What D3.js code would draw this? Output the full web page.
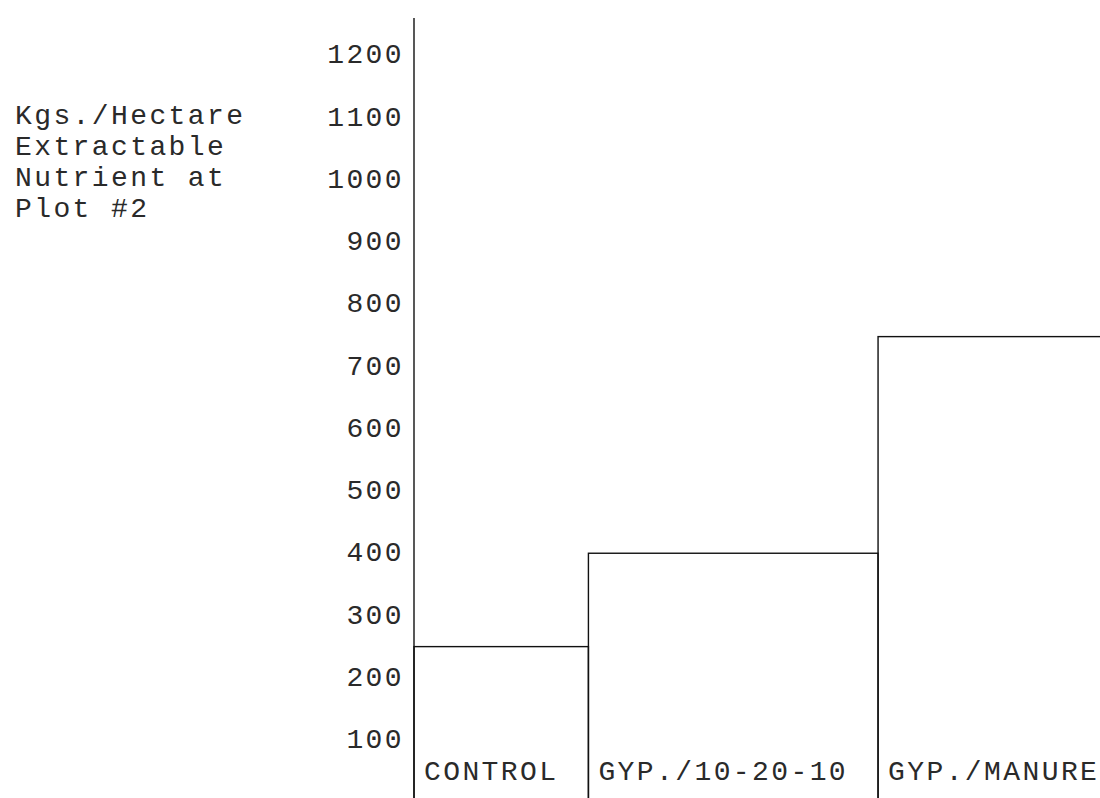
<!DOCTYPE html>
<html>
<head>
<meta charset="utf-8">
<script src="https://cdn.jsdelivr.net/npm/d3@7"></script>
<style>
  body { margin: 0; background: #fff; }
  text { font-family: "Liberation Mono", "DejaVu Sans Mono", monospace; fill: #2a2a2a; }
</style>
</head>
<body>
<svg id="chart" width="1100" height="798"></svg>
<script>
// Data
const categories = ['CONTROL', 'GYP./10-20-10', 'GYP./MANURE'];
const values = [248, 398, 746];
const tickValues = [100, 200, 300, 400, 500, 600, 700, 800, 900, 1000, 1100, 1200];
const titleLines = ['Kgs./Hectare', 'Extractable', 'Nutrient at', 'Plot #2'];

const svg = d3.select('#chart');

// Layout
const axisX = 414;
const fontSize = 28;
const letterSpacing = 2.4;

// y scale: 0 sits just below the window, 1200 near the top
const y = d3.scaleLinear().domain([0, 1200]).range([801, 54]);

// y axis (labels only, no tick marks)
const yAxis = d3.axisLeft(y)
  .tickValues(tickValues)
  .tickSize(0)
  .tickPadding(10)
  .tickFormat(d3.format('d'));

const axisG = svg.append('g')
  .attr('transform', `translate(${axisX},0)`)
  .call(yAxis);

axisG.select('.domain').remove();
axisG.selectAll('text')
  .attr('font-family', null)
  .style('font-size', `${fontSize}px`)
  .style('letter-spacing', `${letterSpacing}px`)
  .attr('dy', '0.32em');

// axis line, runs from the top of the frame to the bottom
svg.append('line')
  .attr('x1', axisX).attr('x2', axisX)
  .attr('y1', 18).attr('y2', 798)
  .attr('stroke', '#111')
  .attr('stroke-width', 1.4);

// Axis title
svg.append('text')
  .attr('x', 15)
  .attr('y', 124)
  .style('font-size', `${fontSize}px`)
  .style('letter-spacing', `${letterSpacing}px`)
  .selectAll('tspan')
  .data(titleLines)
  .enter()
  .append('tspan')
  .attr('x', 15)
  .attr('dy', (d, i) => (i === 0 ? 0 : 31))
  .text((d) => d);

// Bar widths follow their labels, like the original typed layout
const measure = svg.append('text')
  .style('font-size', `${fontSize}px`)
  .style('letter-spacing', `${letterSpacing}px`);
const labelWidths = categories.map((c) => {
  measure.text(c);
  return measure.node().getComputedTextLength();
});
measure.remove();

const padLeft = 10;
const padRight = 30;
const edges = [axisX];
labelWidths.forEach((w, i) => edges.push(edges[i] + padLeft + w + padRight));

const bars = svg.append('g');

bars.selectAll('rect')
  .data(values)
  .enter()
  .append('rect')
  .attr('x', (d, i) => edges[i])
  .attr('y', (d) => y(d))
  .attr('width', (d, i) => edges[i + 1] - edges[i])
  .attr('height', (d) => y(0) - y(d))
  .attr('fill', 'none')
  .attr('stroke', '#111')
  .attr('stroke-width', 1.4);

bars.selectAll('text')
  .data(categories)
  .enter()
  .append('text')
  .attr('x', (d, i) => edges[i] + padLeft)
  .attr('y', 780)
  .style('font-size', `${fontSize}px`)
  .style('letter-spacing', `${letterSpacing}px`)
  .text((d) => d);
</script>
</body>
</html>
